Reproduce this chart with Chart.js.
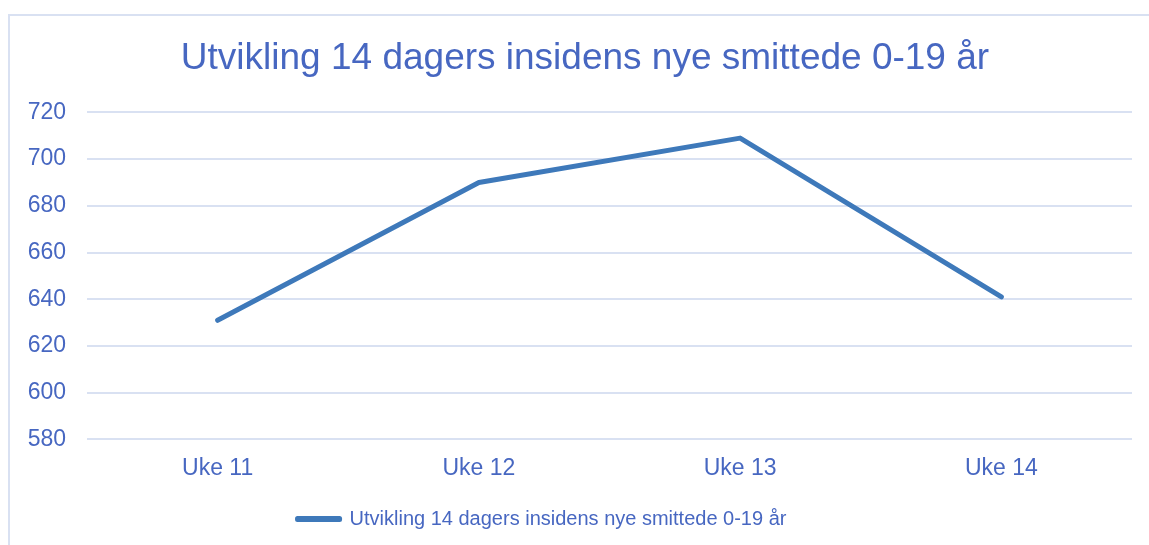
<!DOCTYPE html>
<html>
<head>
<meta charset="utf-8">
<script src="https://cdn.jsdelivr.net/npm/chart.js@4"></script>
<style>
  html, body { margin: 0; padding: 0; background: #fff; }
  #wrap { position: relative; width: 1149px; height: 545px; overflow: hidden; }
  #frame { position: absolute; left: 8px; top: 14px; width: 1200px; height: 600px;
           border-top: 2px solid #d9e1f2; border-left: 2px solid #d9e1f2; }
  #canvas { position: absolute; left: 0; top: 0; }
</style>
</head>
<body>
<div id="wrap">
  <div id="frame"></div>
  <canvas id="canvas" width="1149" height="545"></canvas>
</div>
<script>
const weeks = ["Uke 11", "Uke 12", "Uke 13", "Uke 14"];
const incidence = [631, 690, 709, 641];
const seriesName = "Utvikling 14 dagers insidens nye smittede 0-19 år";

const textBlue = "#4767c1";
const lineBlue = "#3e79ba";
const gridBlue = "#d9e1f2";
const font = "'Liberation Sans', Arial, sans-serif";

Chart.defaults.font.family = font;
Chart.defaults.color = textBlue;

// title is centred on the outer frame, legend sits a bit left of centre
const nudgeBoxes = {
  id: "nudgeBoxes",
  afterLayout(chart) {
    const t = chart.titleBlock;
    if (t) { t.left += 19; t.right += 19; }
    const lg = chart.legend;
    if (lg) { lg.left -= 24; lg.right -= 24; }
  },
};

const ctx = document.getElementById("canvas").getContext("2d");

new Chart(ctx, {
  type: "line",
  data: {
    labels: weeks,
    datasets: [
      {
        label: seriesName,
        data: incidence,
        borderColor: lineBlue,
        backgroundColor: lineBlue,
        borderWidth: 5,
        borderCapStyle: "round",
        borderJoinStyle: "round",
        pointRadius: 0,
        tension: 0,
      },
    ],
  },
  options: {
    responsive: false,
    animation: false,
    layout: { padding: { left: 0, right: 17, top: 20, bottom: 6 } },
    scales: {
      y: {
        min: 580,
        max: 720,
        ticks: { stepSize: 20, padding: 21, color: textBlue, font: { size: 23 } },
        grid: { color: gridBlue, lineWidth: 2, drawTicks: false },
        border: { display: false },
        afterFit: (s) => { s.width = 87; },
      },
      x: {
        offset: true,
        ticks: { padding: 15, color: textBlue, font: { size: 23 } },
        grid: { display: false, drawTicks: false },
        border: { display: false },
      },
    },
    plugins: {
      title: {
        display: true,
        text: seriesName,
        color: textBlue,
        font: { size: 37, weight: "normal" },
        padding: { top: 17, bottom: 31 },
      },
      legend: {
        display: true,
        position: "bottom",
        labels: { color: textBlue, font: { size: 20 }, boxWidth: 42, boxHeight: 1, padding: 12 },
      },
      tooltip: { enabled: false },
    },
  },
  plugins: [nudgeBoxes],
});
</script>
</body>
</html>
